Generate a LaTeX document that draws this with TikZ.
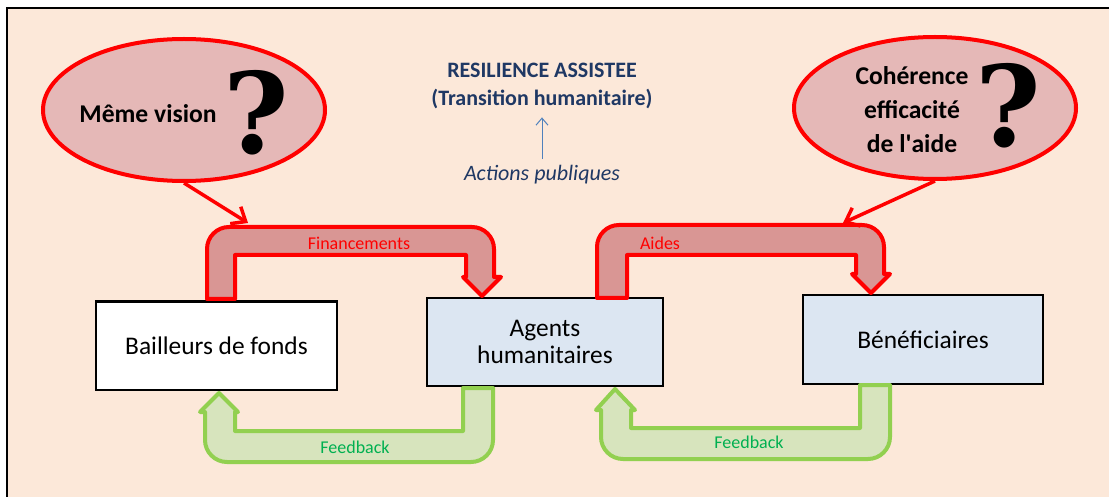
\documentclass[tikz,border=0pt]{standalone}
\usepackage{fontspec}
\setmainfont{Carlito}
\newfontfamily\qmfont{DejaVu Serif}
\usetikzlibrary{shapes.geometric,arrows.meta}

\definecolor{fond}{HTML}{FCE8D9}
\definecolor{bulle}{HTML}{E5B8B7}
\definecolor{bande}{HTML}{D99694}
\definecolor{vertbord}{HTML}{92D050}
\definecolor{vertfond}{HTML}{D7E4BD}
\definecolor{vertlabel}{HTML}{00B050}
\definecolor{bleubox}{HTML}{DCE6F2}
\definecolor{marine}{HTML}{1F3864}
\definecolor{bleufleche}{HTML}{4F81BD}

\begin{document}
\begin{tikzpicture}[x=1pt,y=-1pt,
    acteur/.style={draw,line width=2pt,minimum height=88pt,align=center,
        font=\fontsize{25.4}{27}\selectfont},
    bulle/.style={ellipse,draw=red,line width=4pt,fill=bulle,
        minimum width=282pt,minimum height=142pt},
    question/.style={font=\fontsize{25.6}{34}\selectfont\bfseries,align=center},
    interro/.style={inner sep=0pt,font=\qmfont\fontsize{112}{112}\selectfont\bfseries},
    flux/.style={draw=red,line width=4pt,fill=bande,line join=round},
    retour/.style={draw=vertbord,line width=4pt,fill=vertfond,line join=round},
    fluxlabel/.style={text=red,font=\fontsize{18}{20}\selectfont},
    retourlabel/.style={text=vertlabel,font=\fontsize{18}{20}\selectfont},
    lien/.style={draw=red,line width=3.5pt,-{Straight Barb[length=12pt,width=20pt]}}]

    \useasboundingbox (0,0) rectangle (1109,497);
    \fill[fond] (7,8) rectangle (1109,497);
    \draw[line width=2pt] (7,497) -- (7,8) -- (1109,8);

    % acteurs
    \node[acteur,fill=white,minimum width=241pt] (bail) at (216.5,345.5) {Bailleurs de fonds};
    \node[acteur,fill=bleubox,minimum width=236pt] (agents) at (545,342) {Agents\\humanitaires};
    \node[acteur,fill=bleubox,minimum width=240pt] (benef) at (923,339.5) {Bénéficiaires};

    % bulles
    \node[bulle] (vision) at (184,110) {};
    \node[question] (visiontxt) at (148,114) {Même vision};
    \node[interro] (q1) at (256,113) {?};
    \node[bulle] (coherence) at (935,108) {};
    \node[question] (coherencetxt) at (912,110) {Cohérence\\efficacité\\de l\textquotesingle aide};
    \node[interro] (q2) at (1008,106) {?};

    % resilience
    \node[text=marine,align=center,font=\fontsize{22}{28}\selectfont\bfseries] (resil) at (542,86)
        {RESILIENCE ASSISTEE\\(Transition humanitaire)};
    \node[text=marine,font=\fontsize{22}{24}\selectfont\itshape] (actions) at (542,175) {Actions publiques};
    \draw[bleufleche,line width=1pt,-{Straight Barb[length=7pt,width=12pt]},
        shorten <=3pt,shorten >=5pt] (actions) -- (resil);

    % fleches en bande
    \draw[flux] (207,299) -- (207,249) arc[start angle=180,end angle=270,radius=22]
        -- (472,227) arc[start angle=270,end angle=360,radius=22]
        -- (494,277) -- (501,277) -- (482,296) -- (463,277) -- (466,277)
        -- (466,255) -- (235,255) -- (235,299) -- cycle;
    \node[fluxlabel] (fin) at (359,243) {Financements};

    \draw[flux] (597,298) -- (597,247) arc[start angle=180,end angle=270,radius=22]
        -- (862,225) arc[start angle=270,end angle=360,radius=22]
        -- (884,274) -- (890,274) -- (871,293) -- (852,274) -- (856,274)
        -- (856,255) -- (627,255) -- (627,298) -- cycle;
    \node[fluxlabel] (aid) at (660,243) {Aides};

    \draw[retour] (493,388) -- (493,440) arc[start angle=0,end angle=90,radius=22]
        -- (227,462) arc[start angle=90,end angle=180,radius=22]
        -- (205,412) -- (200,412) -- (219,393) -- (238,412) -- (235,412)
        -- (235,431) -- (463,431) -- (463,388) -- cycle;
    \node[retourlabel] (fb1) at (355,447) {Feedback};

    \draw[retour] (890,385) -- (890,437) arc[start angle=0,end angle=90,radius=22]
        -- (623,459) arc[start angle=90,end angle=180,radius=22]
        -- (601,410) -- (596,410) -- (615,389) -- (635,410) -- (631,410)
        -- (631,428) -- (860,428) -- (860,385) -- cycle;
    \node[retourlabel] (fb2) at (749,442) {Feedback};

    % liens bulles
    \coordinate (cfin) at (248,223);
    \coordinate (caid) at (843,223);
    \draw[lien] (vision.south) -- (cfin);
    \draw[lien] (coherence.south) -- (caid);
\end{tikzpicture}
\end{document}
